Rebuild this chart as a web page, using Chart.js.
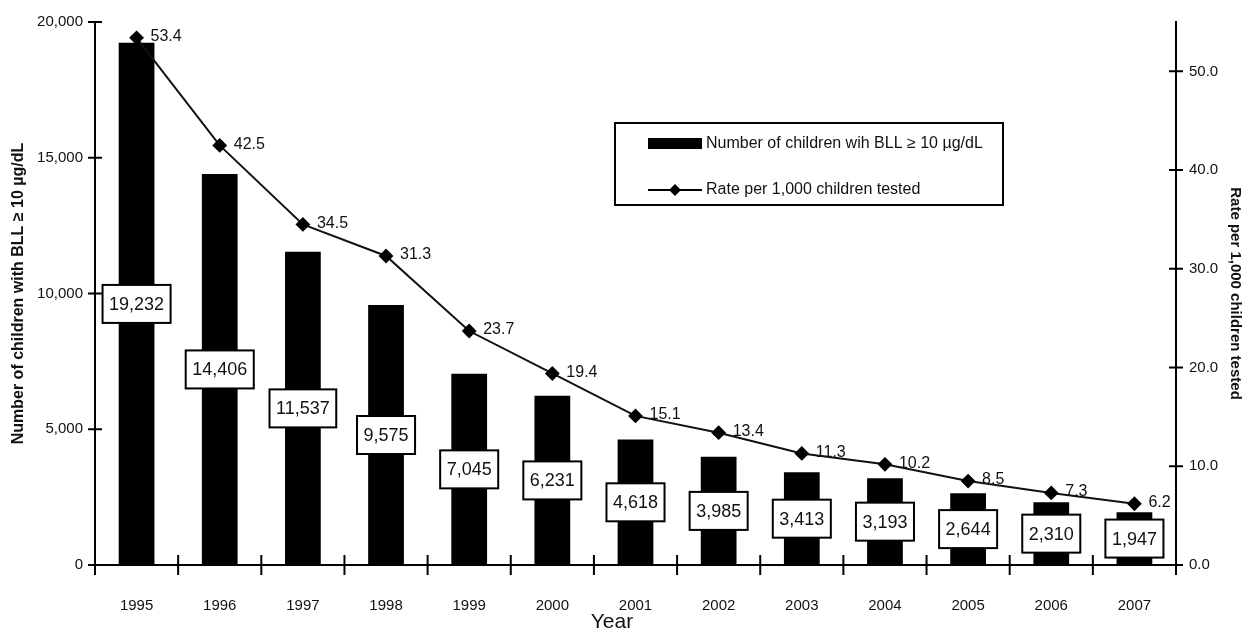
<!DOCTYPE html>
<html>
<head>
<meta charset="utf-8">
<script src="https://cdn.jsdelivr.net/npm/chart.js@4/dist/chart.umd.min.js"></script>
<style>
  html, body { margin: 0; padding: 0; background: #fff; }
  #wrap { width: 1249px; height: 635px; }
</style>
</head>
<body>
<div id="wrap"><canvas id="leadChart" width="1249" height="635"></canvas></div>
<script>
// data
const years = ['1995', '1996', '1997', '1998', '1999', '2000', '2001', '2002', '2003', '2004', '2005', '2006', '2007'];
const childCounts = [19232, 14406, 11537, 9575, 7045, 6231, 4618, 3985, 3413, 3193, 2644, 2310, 1947];
const ratePer1000 = [53.4, 42.5, 34.5, 31.3, 23.7, 19.4, 15.1, 13.4, 11.3, 10.2, 8.5, 7.3, 6.2];
const countTicks = [0, 5000, 10000, 15000, 20000];
const rateTicks = [0, 10, 20, 30, 40, 50];

const FONT = '"Liberation Sans", Arial, sans-serif';

// value boxes on bars, value text next to points
const valueLabels = {
  id: 'valueLabels',
  afterDatasetsDraw(chart) {
    const ctx = chart.ctx;
    ctx.save();
    ctx.font = '18px ' + FONT;
    ctx.textBaseline = 'middle';

    const bars = chart.getDatasetMeta(0).data;
    bars.forEach((bar, i) => {
      const text = childCounts[i].toLocaleString('en-US');
      const w = ctx.measureText(text).width + 13;
      const h = 38;
      const cy = (bar.y + bar.base) / 2;
      ctx.fillStyle = '#fff';
      ctx.fillRect(bar.x - w / 2, cy - h / 2, w, h);
      ctx.lineWidth = 2;
      ctx.strokeStyle = '#000';
      ctx.strokeRect(bar.x - w / 2, cy - h / 2, w, h);
      ctx.fillStyle = '#111';
      ctx.textAlign = 'center';
      ctx.fillText(text, bar.x, cy + 1);
    });

    const pts = chart.getDatasetMeta(1).data;
    ctx.font = '16px ' + FONT;
    ctx.textAlign = 'left';
    pts.forEach((p, i) => {
      ctx.fillStyle = '#111';
      ctx.fillText(ratePer1000[i].toFixed(1), p.x + 14, p.y - 1);
    });
    ctx.restore();
  }
};

// tick marks that cross the axis lines, plus the boxed legend
const axisDecor = {
  id: 'axisDecor',
  afterDraw(chart) {
    const ctx = chart.ctx;
    const area = chart.chartArea;
    const x = chart.scales.x;
    const yL = chart.scales.y;
    const yR = chart.scales.y1;
    ctx.save();
    ctx.strokeStyle = '#000';
    ctx.lineWidth = 2;
    ctx.beginPath();
    yL.ticks.forEach(t => {
      const py = yL.getPixelForValue(t.value);
      ctx.moveTo(area.left - 7, py);
      ctx.lineTo(area.left + 7, py);
    });
    yR.ticks.forEach(t => {
      const py = yR.getPixelForValue(t.value);
      ctx.moveTo(area.right - 7, py);
      ctx.lineTo(area.right + 7, py);
    });
    for (let i = 0; i <= years.length; i++) {
      const px = i < years.length
        ? x.getPixelForValue(i) - (x.getPixelForValue(1) - x.getPixelForValue(0)) / 2
        : area.right;
      ctx.moveTo(px, area.bottom - 10);
      ctx.lineTo(px, area.bottom + 10);
    }
    ctx.stroke();

    // legend
    const lx = 615, ly = 123, lw = 388, lh = 82;
    ctx.fillStyle = '#fff';
    ctx.fillRect(lx, ly, lw, lh);
    ctx.lineWidth = 2;
    ctx.strokeRect(lx, ly, lw, lh);
    ctx.fillStyle = '#000';
    ctx.fillRect(lx + 33, ly + 15, 54, 11);
    ctx.beginPath();
    ctx.lineWidth = 2;
    ctx.moveTo(lx + 33, ly + 67);
    ctx.lineTo(lx + 87, ly + 67);
    ctx.stroke();
    ctx.beginPath();
    ctx.moveTo(lx + 60, ly + 61);
    ctx.lineTo(lx + 66, ly + 67);
    ctx.lineTo(lx + 60, ly + 73);
    ctx.lineTo(lx + 54, ly + 67);
    ctx.closePath();
    ctx.fill();
    ctx.font = '16px ' + FONT;
    ctx.textAlign = 'left';
    ctx.textBaseline = 'middle';
    ctx.fillStyle = '#111';
    ctx.fillText('Number of children wih BLL \u2265 10 \u00b5g/dL', lx + 91, ly + 21);
    ctx.fillText('Rate per 1,000 children tested', lx + 91, ly + 67);

    // axis title under the category labels
    ctx.font = '21px ' + FONT;
    ctx.textAlign = 'center';
    ctx.fillText('Year', 612, 622);
    ctx.restore();
  }
};

const ctx = document.getElementById('leadChart').getContext('2d');
new Chart(ctx, {
  type: 'bar',
  data: {
    labels: years,
    datasets: [
      {
        type: 'bar',
        label: 'Number of children wih BLL \u2265 10 \u00b5g/dL',
        data: childCounts,
        backgroundColor: '#000',
        barPercentage: 0.43,
        categoryPercentage: 1,
        yAxisID: 'y',
        order: 2
      },
      {
        type: 'line',
        label: 'Rate per 1,000 children tested',
        data: ratePer1000,
        borderColor: '#111',
        borderWidth: 2,
        pointStyle: 'rectRot',
        pointRadius: 6,
        pointBackgroundColor: '#000',
        pointBorderColor: '#000',
        tension: 0,
        yAxisID: 'y1',
        order: 1
      }
    ]
  },
  options: {
    responsive: false,
    animation: false,
    layout: { padding: { top: 15, left: 0, right: 0, bottom: 0 } },
    plugins: {
      legend: { display: false },
      tooltip: { enabled: false },
      title: { display: false }
    },
    scales: {
      x: {
        offset: true,
        grid: { display: false, drawTicks: false },
        border: { display: true, color: '#000', width: 2 },
        ticks: { color: '#111', font: { family: FONT, size: 15 }, padding: 32, maxRotation: 0 },
        title: { display: false },
        afterFit(scale) { scale.height = 70; }
      },
      y: {
        position: 'left',
        min: 0,
        max: 20000,
        afterBuildTicks(scale) { scale.ticks = countTicks.map(v => ({ value: v })); },
        grid: { display: false, drawTicks: false },
        border: { display: true, color: '#000', width: 2 },
        ticks: {
          color: '#111',
          font: { family: FONT, size: 15 },
          padding: 12,
          callback: v => v.toLocaleString('en-US')
        },
        title: {
          display: true,
          text: 'Number of children with BLL \u2265 10 \u00b5g/dL',
          color: '#111',
          font: { family: FONT, size: 16, weight: 'bold' },
          padding: { top: 9, bottom: 0 }
        },
        afterFit(scale) { scale.width = 95; }
      },
      y1: {
        position: 'right',
        min: 0,
        max: 55,
        afterBuildTicks(scale) { scale.ticks = rateTicks.map(v => ({ value: v })); },
        grid: { display: false, drawTicks: false },
        border: { display: true, color: '#000', width: 2 },
        ticks: {
          color: '#111',
          font: { family: FONT, size: 15 },
          padding: 13,
          callback: v => v.toFixed(1)
        },
        title: {
          display: true,
          text: 'Rate per 1,000 children tested',
          color: '#111',
          font: { family: FONT, size: 15, weight: 'bold' },
          padding: { top: 5, bottom: 0 }
        },
        afterFit(scale) { scale.width = 73; }
      }
    }
  },
  plugins: [valueLabels, axisDecor]
});
</script>
</body>
</html>
